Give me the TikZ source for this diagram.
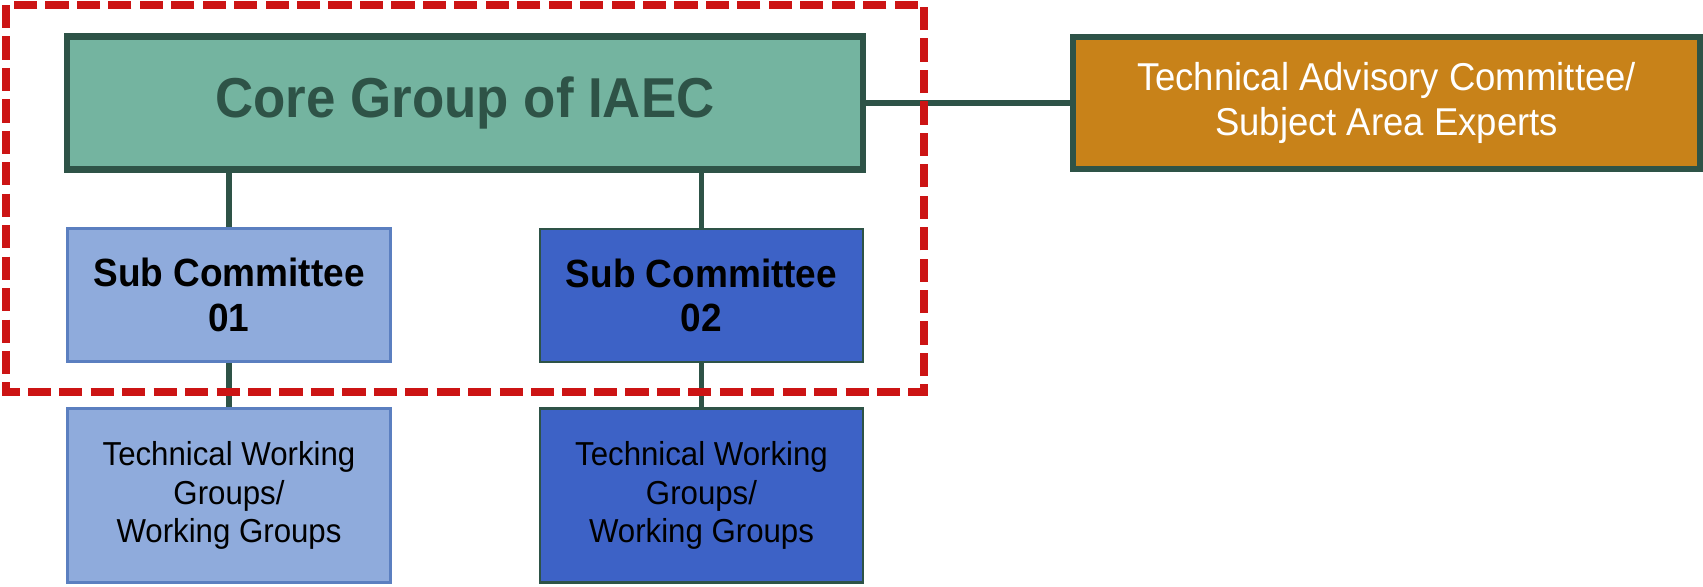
\documentclass[tikz,border=0pt]{standalone}
\usepackage{fontspec}
\setmainfont{Liberation Sans}[FakeStretch=0.94]
\usepackage{tikz}

\definecolor{dunkelgruen}{HTML}{2E5347}
\definecolor{kerngruen}{HTML}{74B4A0}
\definecolor{ocker}{HTML}{C88219}
\definecolor{hellblau}{HTML}{8FABDC}
\definecolor{hellblaurand}{HTML}{5B7FC0}
\definecolor{mittelblau}{HTML}{3D62C6}
\definecolor{rahmenrot}{HTML}{CC1414}

\begin{document}
\begin{tikzpicture}[
x=0.02cm, y=-0.02cm,
kasten/.style={rectangle, draw=dunkelgruen, line width=1.5pt, inner sep=0pt, align=center, minimum width=6.46cm},
kern/.style={kasten, fill=kerngruen, line width=3.6pt, minimum width=15.92cm, minimum height=2.66cm, text=dunkelgruen, font=\fontsize{32}{38}\selectfont\bfseries},
berater/.style={kasten, fill=ocker, line width=3pt, minimum width=12.54cm, minimum height=2.64cm, text=white, font=\fontsize{22.1}{25.9}\selectfont},
sub/.style={kasten, minimum height=2.66cm, font=\fontsize{22.4}{25.5}\selectfont\bfseries},
twg/.style={kasten, minimum height=3.48cm, font=\fontsize{18.9}{22.1}\selectfont},
hell/.style={fill=hellblau, draw=hellblaurand},
dunkel/.style={fill=mittelblau},
linie/.style={draw=dunkelgruen, line width=3.2pt},
]

\useasboundingbox (0,0) rectangle (1703,586);

% Kern und Berater
\node[kern] (core) at (465,103) {Core Group of IAEC};
\node[berater] (tac) at (1386.5,103) {Technical Advisory Committee/\\Subject Area Experts};

% Unterausschuesse
\node[sub,hell] (subA) at (229,295) {Sub Committee\\01};
\node[sub,dunkel] (subB) at (701.5,295.5) {Sub Committee\\02};

% Arbeitsgruppen
\node[twg,hell] (twgA) at (229,495.5) {Technical Working\\Groups/\\Working Groups};
\node[twg,dunkel] (twgB) at (701.5,495.5) {Technical Working\\Groups/\\Working Groups};

\draw[linie] (core.east) -- (tac.west);
\draw[linie] (subA.north |- core.south) -- (subA.north);
\draw[linie] (subB.north |- core.south) -- (subB.north);
\draw[linie] (subA.south) -- (twgA.north);
\draw[linie] (subB.south) -- (twgB.north);

% gestrichelter Rahmen
\draw[rahmenrot, line width=4pt, dash pattern=on 13.2pt off 4.7pt] (6,5) rectangle (924,392);

\end{tikzpicture}
\end{document}
